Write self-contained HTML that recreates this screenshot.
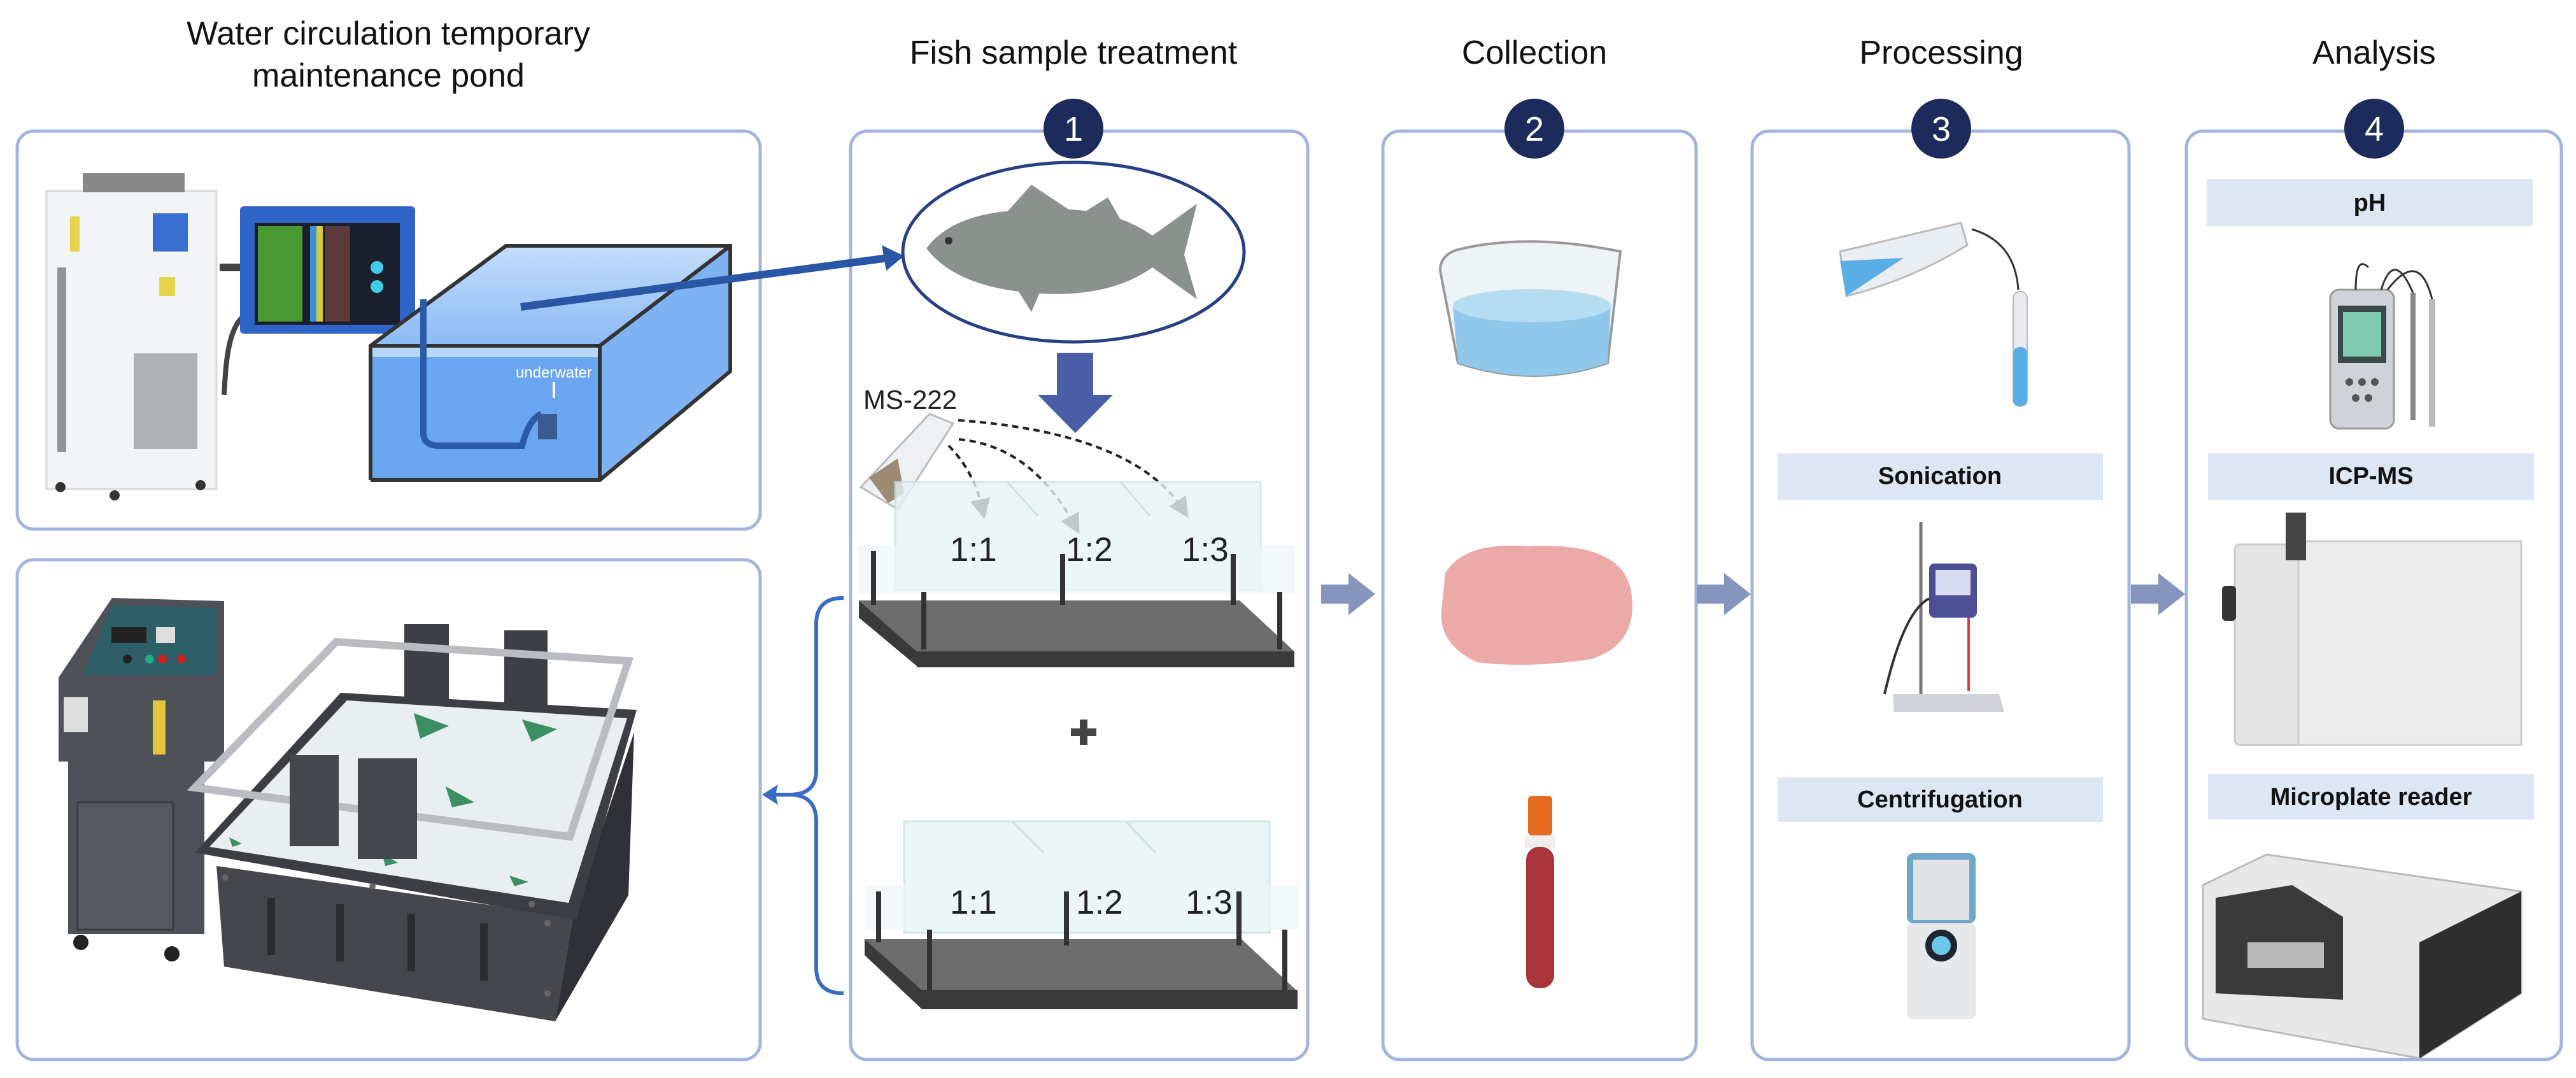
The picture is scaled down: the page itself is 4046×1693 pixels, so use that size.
<!DOCTYPE html>
<html><head><meta charset="utf-8">
<style>
html,body{margin:0;padding:0;background:#fff;}
body{width:4046px;height:1693px;overflow:hidden;}
svg{display:block;}
text{font-family:"Liberation Sans",sans-serif;}
</style></head><body>
<svg width="4046" height="1693" viewBox="0 0 4046 1693" xmlns="http://www.w3.org/2000/svg">
<defs>
<marker id="ah" markerWidth="8" markerHeight="8" refX="4" refY="4" orient="auto" markerUnits="strokeWidth">
<path d="M0,0 L8,4 L0,8 z" fill="#222"/></marker>
<linearGradient id="water" x1="0" y1="0" x2="0" y2="1"><stop offset="0" stop-color="#cfe3fa"/><stop offset="1" stop-color="#5d9ff0"/></linearGradient>
</defs>

<!-- Titles -->
<g font-size="52" fill="#111" text-anchor="middle">
<text x="610" y="70">Water circulation temporary</text>
<text x="610" y="136">maintenance pond</text>
<text x="1686" y="100">Fish sample treatment</text>
<text x="2410" y="100">Collection</text>
<text x="3049" y="100">Processing</text>
<text x="3729" y="100">Analysis</text>
</g>

<!-- Panels -->
<g fill="none" stroke="#a3b5dd" stroke-width="5">
<rect x="27" y="206" width="1167" height="625" rx="26"/>
<rect x="27" y="879" width="1167" height="785" rx="26"/>
<rect x="1336" y="206" width="718" height="1458" rx="26"/>
<rect x="2172" y="206" width="492" height="1458" rx="26"/>
<rect x="2752" y="206" width="592" height="1458" rx="26"/>
<rect x="3434" y="206" width="589" height="1458" rx="26"/>
</g>

<!-- badges -->
<g>
<circle cx="1686" cy="202" r="47" fill="#1d2a5c"/>
<circle cx="2410" cy="202" r="47" fill="#1d2a5c"/>
<circle cx="3049" cy="202" r="47" fill="#1d2a5c"/>
<circle cx="3729" cy="202" r="47" fill="#1d2a5c"/>
<g font-size="54" fill="#fff" text-anchor="middle">
<text x="1686" y="221">1</text><text x="2410" y="221">2</text><text x="3049" y="221">3</text><text x="3729" y="221">4</text>
</g></g>

<!-- Pond scene -->
<g>
<rect x="73" y="300" width="267" height="468" fill="#f3f4f6" stroke="#d8dadd" stroke-width="3"/>
<rect x="130" y="272" width="160" height="30" fill="#888"/>
<rect x="240" y="335" width="55" height="60" fill="#3a6fd0"/>
<rect x="110" y="340" width="15" height="55" fill="#e6d54a"/>
<rect x="250" y="435" width="25" height="30" fill="#e6d54a"/>
<g fill="#333">
<rect x="90" y="420" width="14" height="290" opacity=".5"/>
<rect x="210" y="555" width="100" height="150" opacity=".35"/>
</g>
<circle cx="95" cy="765" r="8" fill="#333"/><circle cx="180" cy="778" r="8" fill="#333"/><circle cx="315" cy="762" r="8" fill="#333"/>
<path d="M345 420 L380 420" stroke="#444" stroke-width="12"/>
<path d="M395 490 C360 500 355 560 352 620" stroke="#444" stroke-width="8" fill="none"/>
<rect x="377" y="324" width="275" height="200" fill="#2f63c8" rx="6"/>
<rect x="400" y="350" width="228" height="160" fill="#1a1f2b"/>
<rect x="405" y="355" width="70" height="150" fill="#4a9a33"/>
<rect x="487" y="355" width="10" height="150" fill="#3b8fd8"/><rect x="497" y="355" width="10" height="150" fill="#d6c93a"/>
<rect x="510" y="355" width="40" height="150" fill="#5a3a3a"/>
<circle cx="592" cy="420" r="10" fill="#3cd0e8"/><circle cx="592" cy="450" r="10" fill="#3cd0e8"/>
<!-- tank -->
<polygon points="795,386 1147,386 1147,583 942,754 582,754 582,543" fill="#b9d6fb"/>
<polygon points="942,543 1147,386 1147,583 942,754" fill="#7fb2f3"/>
<rect x="582" y="561" width="360" height="193" fill="#6aa5f0"/>
<polygon points="582,543 795,386 1147,386 942,543" fill="url(#water)" opacity=".5"/>
<g fill="none" stroke="#333" stroke-width="6">
<polyline points="582,754 582,543 795,386 1147,386 1147,583 942,754 582,754"/>
<polyline points="582,543 942,543 942,754"/><line x1="942" y1="543" x2="1147" y2="386"/>
</g>
<path d="M665 470 L665 680 Q665 700 690 700 L820 700 Q830 660 850 650" stroke="#2a5aa8" stroke-width="10" fill="none"/>
<rect x="845" y="650" width="30" height="40" fill="#3a5a90"/>
<text x="870" y="593" font-family="Liberation Serif,serif" font-size="24" fill="#fff" text-anchor="middle">underwater</text>
<path d="M870 600 L870 625" stroke="#fff" stroke-width="4"/>
<line x1="818" y1="482" x2="1395" y2="405" stroke="#2a56a6" stroke-width="12"/>
<polygon points="1420,402 1385,385 1392,425" fill="#2a56a6"/>
</g>

<!-- Shaker -->
<g>
<!-- control cabinet -->
<polygon points="176,939 352,944 352,1196 321,1196 321,1467 107,1467 107,1196 92,1196 92,1064" fill="#4e5157"/>
<polygon points="176,950 340,955 340,1060 130,1060" fill="#2f5f66"/>
<rect x="175" y="985" width="55" height="25" fill="#222"/>
<rect x="245" y="985" width="30" height="25" fill="#ddd"/>
<circle cx="200" cy="1035" r="7" fill="#222"/><circle cx="235" cy="1035" r="7" fill="#2a8"/><circle cx="255" cy="1035" r="7" fill="#c22"/><circle cx="285" cy="1035" r="7" fill="#c22"/>
<rect x="240" y="1100" width="20" height="85" fill="#e2c53a"/>
<rect x="100" y="1095" width="38" height="55" fill="#ddd"/>
<rect x="122" y="1260" width="150" height="200" fill="#55585f" stroke="#3a3c40" stroke-width="3"/>
<circle cx="127" cy="1480" r="12" fill="#222"/><circle cx="270" cy="1498" r="12" fill="#222"/>
<!-- base -->
<polygon points="340,1360 900,1440 872,1604 352,1518" fill="#45474d"/>
<polygon points="900,1440 996,1150 987,1406 872,1604" fill="#2f3136"/>
<!-- rim -->
<polygon points="306,1339 535,1088 1000,1115 905,1445" fill="#3c3e44"/>
<!-- white surface -->
<polygon points="329,1330 545,1100 985,1128 893,1418" fill="#e9eef0"/>
<!-- back uprights -->
<rect x="635" y="980" width="70" height="120" fill="#3d3f44"/>
<rect x="792" y="990" width="68" height="125" fill="#3d3f44"/>
<g fill="#3b8f62"><polygon points="650,1120 705,1140 660,1160"/><polygon points="820,1130 875,1145 835,1165"/><polygon points="700,1235 745,1260 710,1268"/><polygon points="600,1340 625,1355 605,1360"/><polygon points="800,1375 830,1385 808,1392"/><polygon points="360,1315 380,1325 365,1330"/></g>
<!-- aluminium frame -->
<g stroke="#b9bdc1" stroke-width="12" fill="none">
<polygon points="306,1237 528,1008 987,1038 895,1314"/>
</g>
<!-- front uprights -->
<rect x="455" y="1186" width="77" height="143" fill="#45474d"/>
<rect x="562" y="1191" width="93" height="158" fill="#45474d"/>
<g fill="#666"><circle cx="354" cy="1378" r="5"/><circle cx="585" cy="1392" r="5"/><circle cx="835" cy="1420" r="5"/><circle cx="860" cy="1450" r="5"/><circle cx="860" cy="1560" r="5"/></g>
<g fill="#2a2c30"><rect x="420" y="1410" width="12" height="90"/><rect x="528" y="1420" width="12" height="90"/><rect x="640" y="1435" width="12" height="90"/><rect x="754" y="1450" width="12" height="90"/></g>
</g>

<!-- bracket -->
<path d="M1325 939 Q1282 939 1282 980 L1282 1210 Q1282 1248 1240 1248 Q1282 1248 1282 1290 L1282 1520 Q1282 1560 1325 1560" fill="none" stroke="#3a6cc4" stroke-width="6"/>
<line x1="1240" y1="1248" x2="1210" y2="1248" stroke="#3a6cc4" stroke-width="6"/>
<polygon points="1197,1248 1222,1232 1218,1248 1222,1264" fill="#3a6cc4"/>

<!-- Fish treatment -->
<ellipse cx="1686" cy="396" rx="268" ry="141" fill="#fff" stroke="#273f84" stroke-width="5"/>
<path d="M1455 390 Q1500 330 1620 330 Q1740 320 1810 370 L1880 320 L1860 400 L1880 470 L1810 420 Q1740 470 1620 460 Q1500 450 1455 390 z" fill="#8b918d"/>
<path d="M1580 335 L1620 290 L1680 330 z M1700 335 L1740 310 L1760 345 z" fill="#8b918d"/>
<polygon points="1595,450 1620,490 1635,455" fill="#8b918d"/>
<circle cx="1490" cy="378" r="6" fill="#333"/>
<rect x="1660" y="554" width="57" height="70" fill="#4a5ea8"/>
<polygon points="1630,620 1748,620 1689,680" fill="#4a5ea8"/>
<text x="1356" y="642" font-size="42" fill="#222">MS-222</text>
<polygon points="1352,765 1460,650 1497,665 1410,800" fill="#eef1f3" stroke="#bbb" stroke-width="3"/>
<polygon points="1365,750 1410,720 1420,775 1395,790" fill="#9c8a72"/>
<g fill="none" stroke="#222" stroke-width="4" stroke-dasharray="10,7">
<path d="M1490 700 Q1530 740 1543 800" marker-end="url(#ah)"/>
<path d="M1506 690 Q1620 700 1688 825" marker-end="url(#ah)"/>
<path d="M1505 660 Q1780 680 1858 800" marker-end="url(#ah)"/>
</g>
<g>
<rect x="1406" y="757" width="574" height="170" fill="#e6f3f5" stroke="#c8e0e4" stroke-width="3" opacity=".8"/>
<line x1="1582" y1="757" x2="1630" y2="810" stroke="#c8e0e4" stroke-width="3"/><line x1="1760" y1="757" x2="1806" y2="810" stroke="#c8e0e4" stroke-width="3"/>
<polygon points="1349,856 2033,856 2033,933 1349,933" fill="#eef6f8" opacity=".7"/>
<polygon points="1349,943 1947,943 2033,1023 1440,1023" fill="#6d6d6d"/>
<polygon points="1349,943 1440,1023 1440,1046 1349,970" fill="#3a3a3a"/>
<rect x="1440" y="1023" width="593" height="25" fill="#3a3a3a"/>
<g stroke="#333" stroke-width="8"><line x1="1372" y1="865" x2="1372" y2="950"/><line x1="1451" y1="930" x2="1451" y2="1020"/><line x1="1669" y1="870" x2="1669" y2="950"/><line x1="1937" y1="870" x2="1937" y2="950"/><line x1="2010" y1="930" x2="2010" y2="1020"/></g>
<g font-size="53" fill="#222"><text x="1492" y="881">1:1</text><text x="1674" y="881">1:2</text><text x="1856" y="881">1:3</text></g>
</g>
<rect x="1682" y="1144" width="40" height="12" fill="#444"/><rect x="1696" y="1130" width="12" height="40" fill="#444"/>
<g>
<rect x="1420" y="1290" width="574" height="175" fill="#e6f3f5" stroke="#c8e0e4" stroke-width="3" opacity=".8"/>
<line x1="1590" y1="1290" x2="1640" y2="1340" stroke="#c8e0e4" stroke-width="3"/><line x1="1768" y1="1290" x2="1816" y2="1340" stroke="#c8e0e4" stroke-width="3"/>
<polygon points="1360,1390 2040,1390 2040,1460 1360,1460" fill="#eef6f8" opacity=".7"/>
<polygon points="1358,1475 1950,1475 2036,1555 1448,1555" fill="#6d6d6d"/>
<polygon points="1358,1475 1448,1555 1448,1585 1358,1500" fill="#3a3a3a"/>
<rect x="1448" y="1555" width="590" height="30" fill="#3a3a3a"/>
<g stroke="#333" stroke-width="8"><line x1="1380" y1="1400" x2="1380" y2="1480"/><line x1="1460" y1="1460" x2="1460" y2="1555"/><line x1="1675" y1="1400" x2="1675" y2="1485"/><line x1="1946" y1="1400" x2="1946" y2="1485"/><line x1="2018" y1="1460" x2="2018" y2="1555"/></g>
<g font-size="53" fill="#222"><text x="1492" y="1435">1:1</text><text x="1690" y="1435">1:2</text><text x="1862" y="1435">1:3</text></g>
</g>

<!-- flow arrows -->
<g fill="#8595bd">
<rect x="2075" y="918" width="45" height="30"/><polygon points="2118,900 2160,933 2118,966"/>
<rect x="2665" y="918" width="45" height="30"/><polygon points="2708,900 2750,933 2708,966"/>
<rect x="3347" y="918" width="45" height="30"/><polygon points="3390,900 3432,933 3390,966"/>
</g>

<!-- Collection -->
<path d="M2262 425 Q2262 400 2290 392 Q2400 365 2545 395 L2525 570 Q2410 610 2290 570 z" fill="#eef3f5" stroke="#999" stroke-width="4"/>
<path d="M2282 480 Q2410 455 2530 480 L2525 570 Q2410 610 2290 570 z" fill="#8fc8ea"/>
<ellipse cx="2406" cy="480" rx="124" ry="26" fill="#b6dcf2"/>
<path d="M2270 900 Q2300 850 2400 858 Q2550 850 2562 930 Q2575 1010 2500 1035 Q2400 1050 2320 1040 Q2255 1010 2265 950 z" fill="#eba9a8"/>
<rect x="2400" y="1250" width="38" height="62" rx="6" fill="#e56b22"/>
<rect x="2395" y="1312" width="48" height="20" fill="#eee"/>
<rect x="2397" y="1330" width="44" height="222" rx="20" fill="#a9353b"/>

<!-- Processing -->
<path d="M2890 395 L3080 350 L3090 385 Q3000 440 2900 465 z" fill="#e9eef2" stroke="#bbb" stroke-width="3"/>
<polygon points="2890,410 2990,405 2900,465" fill="#5aaee6"/>
<path d="M3097 360 Q3165 380 3170 455" stroke="#333" stroke-width="3" fill="none"/>
<rect x="3162" y="458" width="22" height="180" rx="10" fill="#e8eaee" stroke="#bbb" stroke-width="2"/>
<rect x="3162" y="545" width="22" height="93" rx="10" fill="#5aaee6"/>
<rect x="2792" y="712" width="511" height="73" fill="#dde7f3"/>
<text x="3047" y="760" font-size="38" font-weight="bold" fill="#111" text-anchor="middle">Sonication</text>
<line x1="3017" y1="820" x2="3017" y2="1110" stroke="#777" stroke-width="5"/>
<polygon points="2973,1090 3140,1090 3148,1118 2975,1118" fill="#cfd2d6"/>
<rect x="3030" y="885" width="75" height="85" rx="8" fill="#4c4f96"/>
<rect x="3040" y="895" width="55" height="40" fill="#d8dbef"/>
<path d="M3030 940 Q2990 960 2960 1090" stroke="#333" stroke-width="4" fill="none"/>
<line x1="3092" y1="970" x2="3092" y2="1085" stroke="#c44" stroke-width="4"/>
<rect x="2792" y="1221" width="511" height="70" fill="#dde7f3"/>
<text x="3047" y="1268" font-size="38" font-weight="bold" fill="#111" text-anchor="middle">Centrifugation</text>
<rect x="2995" y="1340" width="108" height="110" rx="10" fill="#6ea7c7"/>
<rect x="3005" y="1350" width="88" height="95" fill="#e0e2e6"/>
<rect x="2995" y="1450" width="108" height="150" rx="8" fill="#e6e8ea"/>
<circle cx="3049" cy="1485" r="25" fill="#1c2530"/><circle cx="3049" cy="1485" r="15" fill="#6ec6e6"/>

<!-- Analysis -->
<rect x="3466" y="281" width="512" height="74" fill="#dde7f3"/>
<text x="3722" y="331" font-size="38" font-weight="bold" fill="#111" text-anchor="middle">pH</text>
<rect x="3660" y="455" width="100" height="218" rx="14" fill="#cfd3d8" stroke="#999" stroke-width="3"/>
<rect x="3672" y="480" width="76" height="90" fill="#3a4a48"/>
<rect x="3680" y="490" width="60" height="70" fill="#7fcab0"/>
<g fill="#555"><circle cx="3690" cy="600" r="6"/><circle cx="3710" cy="600" r="6"/><circle cx="3730" cy="600" r="6"/><circle cx="3700" cy="625" r="6"/><circle cx="3720" cy="625" r="6"/></g>
<line x1="3790" y1="460" x2="3790" y2="660" stroke="#888" stroke-width="8"/>
<line x1="3820" y1="470" x2="3820" y2="670" stroke="#bbb" stroke-width="10"/>
<path d="M3700 455 Q3700 400 3720 420 M3740 455 Q3760 390 3790 460 M3750 455 Q3800 390 3820 470" stroke="#333" stroke-width="3" fill="none"/>
<rect x="3468" y="712" width="512" height="73" fill="#dde7f3"/>
<text x="3724" y="760" font-size="38" font-weight="bold" fill="#111" text-anchor="middle">ICP-MS</text>
<rect x="3510" y="855" width="450" height="315" rx="8" fill="#e4e4e4" stroke="#c8c8c8" stroke-width="3"/>
<rect x="3610" y="850" width="350" height="320" fill="#ececec" stroke="#ccc" stroke-width="3"/>
<rect x="3590" y="805" width="32" height="75" fill="#444"/>
<rect x="3490" y="920" width="22" height="55" rx="6" fill="#333"/>
<rect x="3468" y="1216" width="512" height="71" fill="#dde7f3"/>
<text x="3724" y="1264" font-size="38" font-weight="bold" fill="#111" text-anchor="middle">Microplate reader</text>
<polygon points="3460,1390 3560,1342 3960,1400 3960,1560 3800,1662 3460,1600" fill="#e8e8e8" stroke="#bbb" stroke-width="3"/>
<polygon points="3800,1480 3960,1400 3960,1560 3800,1662" fill="#2e2e2e"/>
<polygon points="3480,1410 3600,1390 3680,1440 3680,1570 3480,1560" fill="#3a3a3a"/>
<rect x="3530" y="1480" width="120" height="40" fill="#bbb"/>
</svg>
</body></html>
